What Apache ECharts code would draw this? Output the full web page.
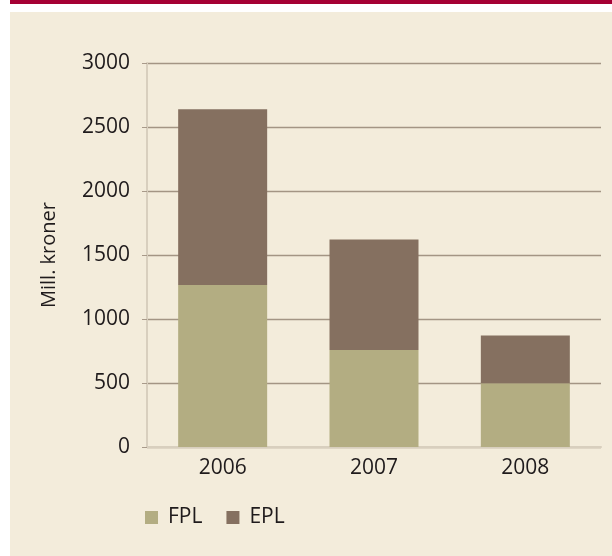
<!DOCTYPE html>
<html>

<head>
    <meta charset="utf-8">
    <title>ECharts</title>
    <script src="https://cdn.jsdelivr.net/npm/echarts@6/dist/echarts.min.js"></script>
    <style>
        html, body { margin: 0; padding: 0; background: #fff; }
        #band { position: absolute; left: 10px; top: 0; width: 602px; height: 4px; background: #a50034; }
        #panel { position: absolute; left: 10px; top: 12px; width: 602px; height: 544px; background: #f3ecdb; }
        #main { position: absolute; left: 0; top: 0; width: 612px; height: 556px; }
    </style>
</head>

<body>
    <div id="band"></div>
    <div id="panel"></div>
    <div id="main"></div>
    <script type="text/javascript">
        var years = ['2006', '2007', '2008'];
        var fpl = [1266, 757, 499];
        var epl = [1373, 864, 373];

        var textColor = '#1f1b1c';
        var fontName = 'Open Sans';

        var myChart = echarts.init(document.getElementById('main'));

        var option = {
            animation: false,
            textStyle: { fontFamily: fontName, color: textColor },
            grid: {
                left: 147,
                right: 11,
                top: 63,
                bottom: 109
            },
            legend: {
                left: 140,
                top: 502,
                itemWidth: 13,
                itemHeight: 13,
                itemGap: 24,
                icon: 'rect',
                textStyle: {
                    fontFamily: fontName,
                    fontSize: 21,
                    color: textColor,
                    padding: [0, 0, 0, 5]
                },
                data: ['FPL', 'EPL']
            },
            xAxis: {
                type: 'category',
                data: years,
                axisLine: { lineStyle: { color: '#d8cfbe', width: 2 } },
                axisTick: { length: 4, lineStyle: { color: '#d8cfbe', width: 1.5 } },
                axisLabel: { fontSize: 21, color: textColor, margin: 11 }
            },
            yAxis: {
                type: 'value',
                name: 'Mill. kroner',
                nameLocation: 'middle',
                nameGap: 88,
                nameTextStyle: { fontSize: 20, color: textColor, fontFamily: fontName },
                min: 0,
                max: 3000,
                interval: 500,
                axisLine: { show: true, lineStyle: { color: '#d8cfbe', width: 2 } },
                axisTick: { show: true, length: 5, lineStyle: { color: '#a89a8a' } },
                axisLabel: {
                    fontSize: 21,
                    color: textColor,
                    margin: 17,
                    formatter: function (v) { return String(v); }
                },
                splitLine: { lineStyle: { color: '#a39584', width: 1.3 } }
            },
            series: [
                {
                    name: 'FPL',
                    type: 'bar',
                    stack: 'total',
                    barWidth: 89,
                    itemStyle: { color: '#b3ad82' },
                    data: fpl
                },
                {
                    name: 'EPL',
                    type: 'bar',
                    stack: 'total',
                    barWidth: 89,
                    itemStyle: { color: '#857060' },
                    data: epl
                }
            ]
        };
        myChart.setOption(option);
    </script>
</body>

</html>
